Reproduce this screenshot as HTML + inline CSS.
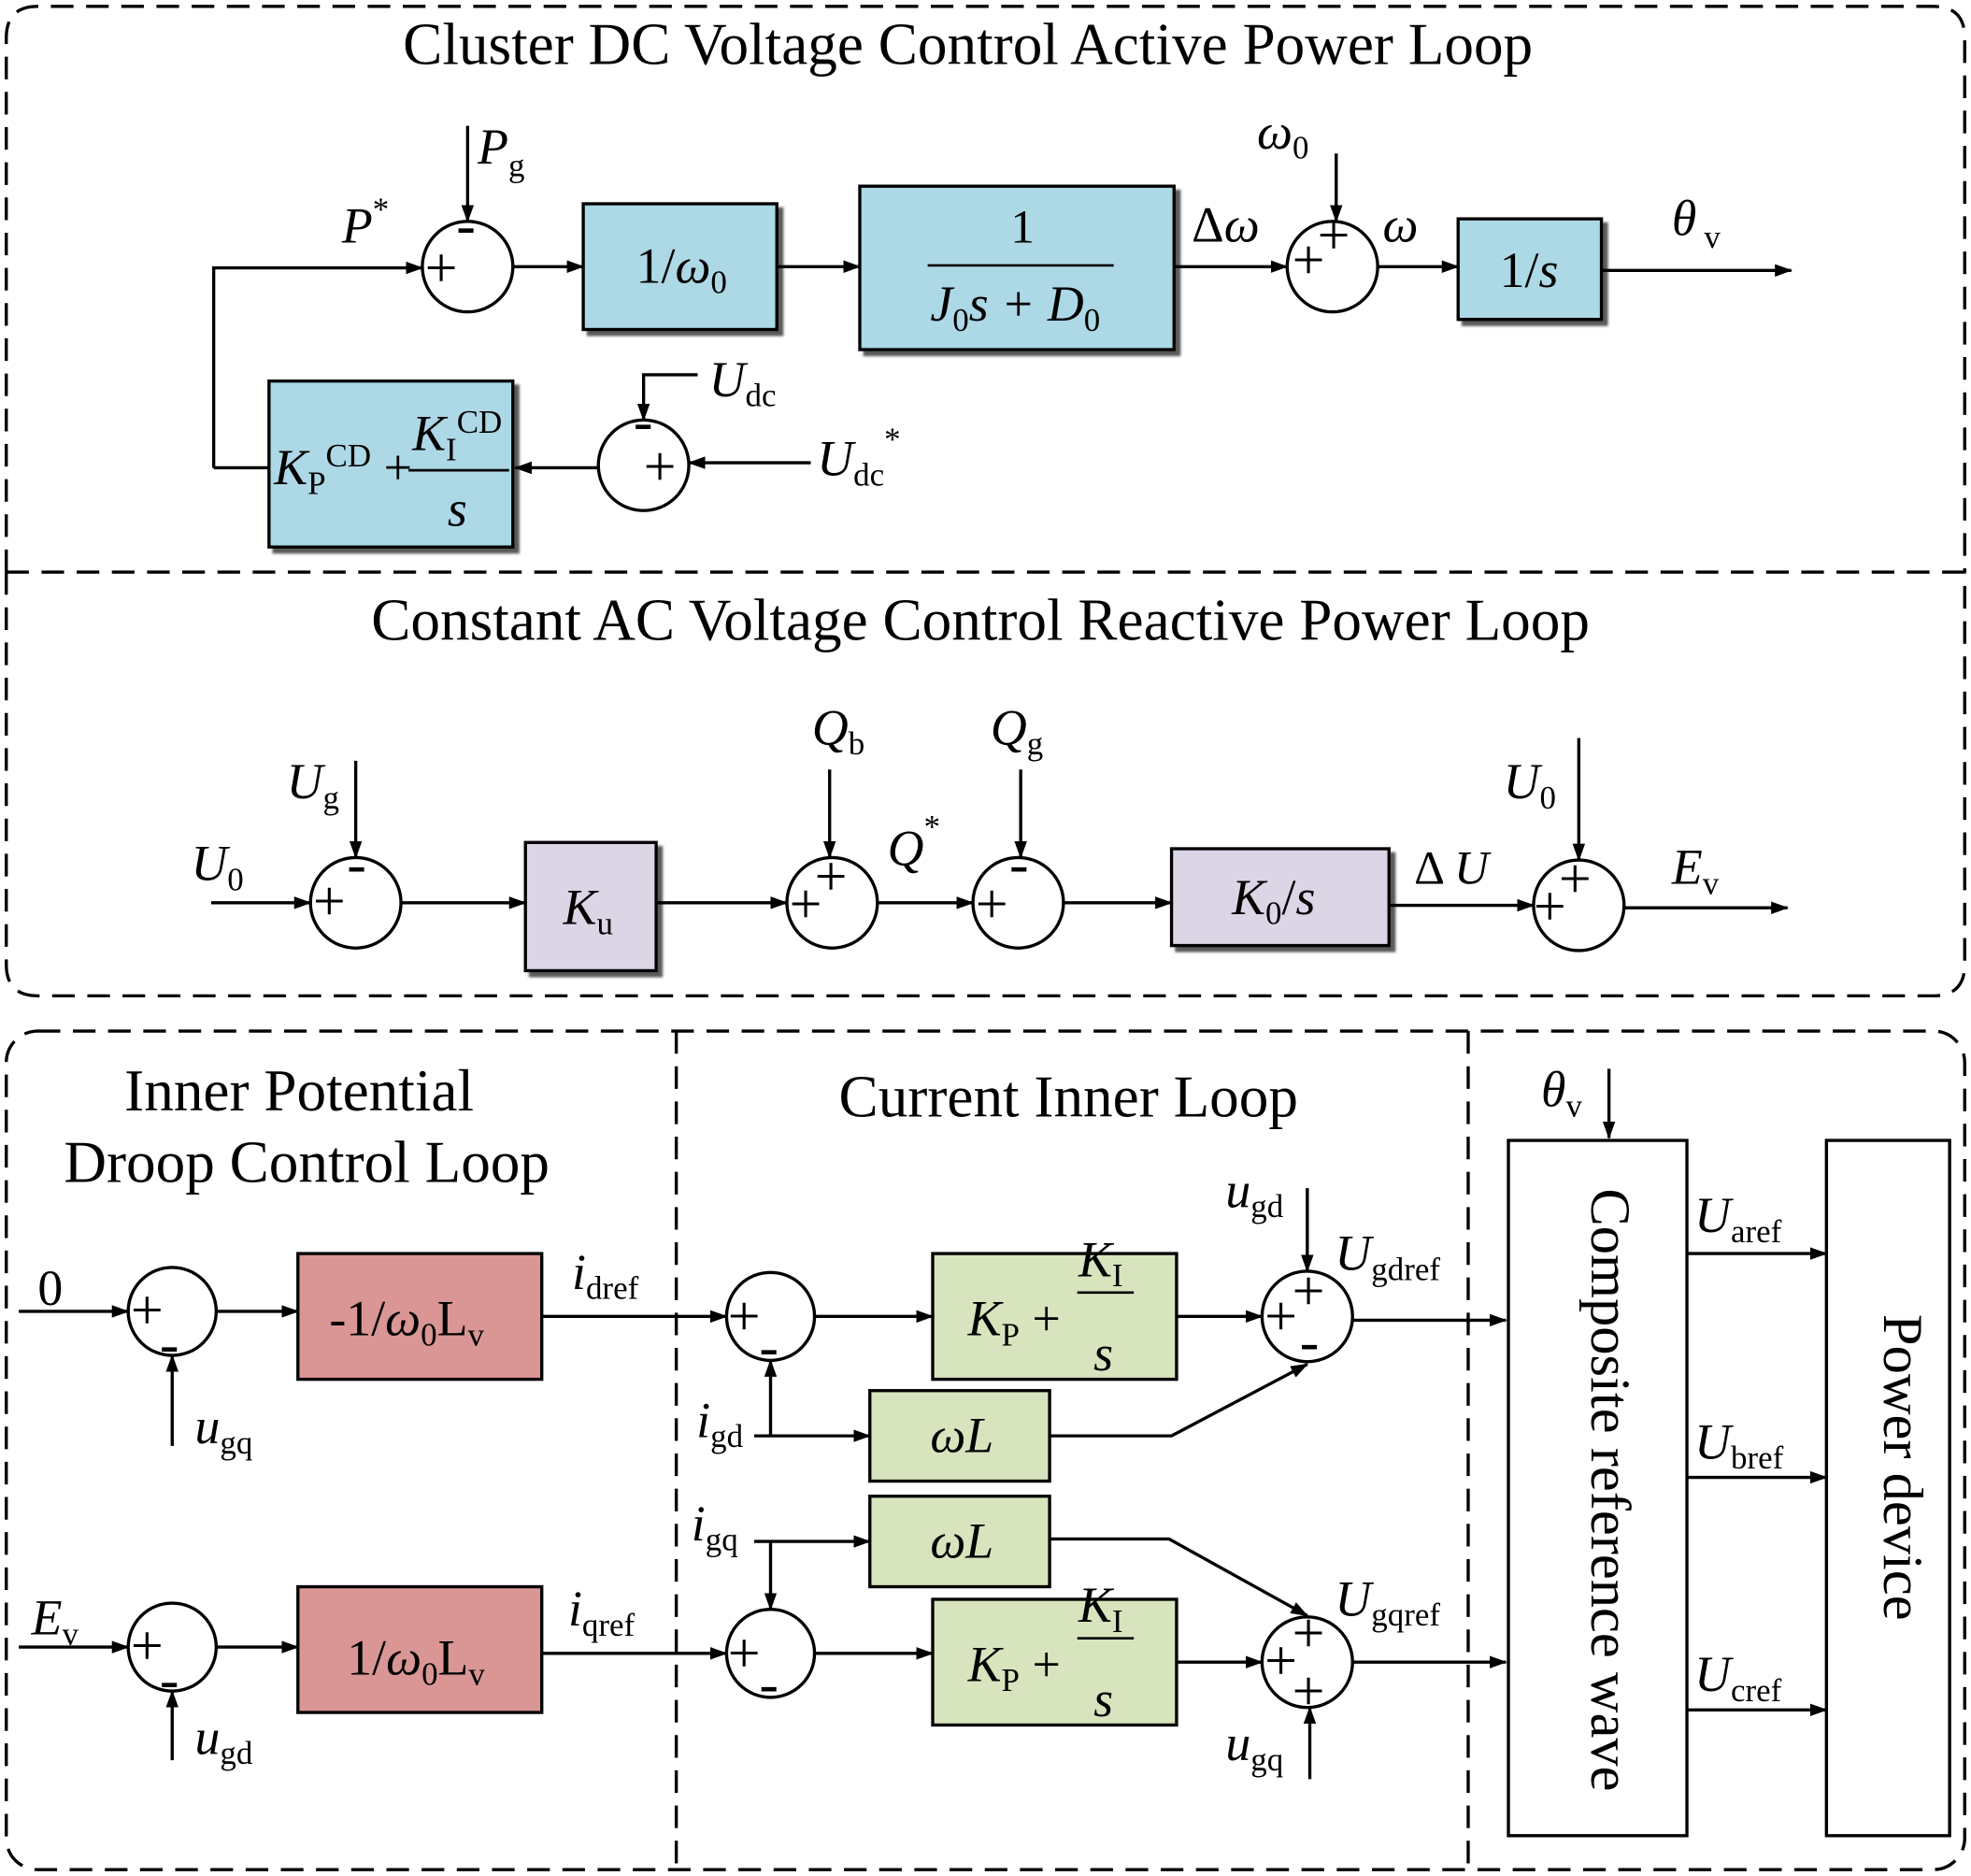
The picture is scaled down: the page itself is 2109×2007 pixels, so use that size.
<!DOCTYPE html>
<html><head><meta charset="utf-8"><style>
html,body{margin:0;padding:0;background:#fff}
svg{display:block}
text{font-family:"Liberation Serif",serif;fill:#000}
.t{font-size:47px}
.l{font-size:40px;font-style:italic}
.s{font-size:26px;font-style:normal}
.pm{font-size:46px}
</style></head><body>
<svg width="2109" height="2007" viewBox="0 0 1568 1492" xmlns="http://www.w3.org/2000/svg">
<defs>
<marker id="a" markerWidth="14" markerHeight="10" refX="13" refY="5" orient="auto" markerUnits="userSpaceOnUse"><path d="M0,0 L14,5 L0,10 z" fill="#000"/></marker>
<filter id="sh"><feDropShadow dx="4" dy="4" stdDeviation="1" flood-color="#333" flood-opacity="0.8"/></filter>
</defs>
<g fill="none" stroke="#000" stroke-width="2.5" stroke-dasharray="18,10">
<path d="M5,455 V30 Q5,5 30,5 H1538 Q1563,5 1563,30 V455"/>
<path d="M5,455 H1563"/>
<path d="M5,455 V767 Q5,792 30,792 H1538 Q1563,792 1563,767 V455"/>
<rect x="5" y="820" width="1558" height="667" rx="25"/>
<path d="M538,820 V1487 M1168,820 V1487"/>
</g>
<text class="t" x="770" y="51" text-anchor="middle">Cluster DC Voltage Control Active Power Loop</text>
<text class="t" x="780" y="509" text-anchor="middle">Constant AC Voltage Control Reactive Power Loop</text>
<text class="t" x="238" y="883" text-anchor="middle">Inner Potential</text>
<text class="t" x="244" y="940" text-anchor="middle">Droop Control Loop</text>
<text class="t" x="850" y="888" text-anchor="middle">Current Inner Loop</text>

<g stroke="#000" stroke-width="2.5">
<rect x="464" y="162" width="154" height="100" fill="#add8e6" filter="url(#sh)"/>
<rect x="684" y="148" width="250" height="130" fill="#add8e6" filter="url(#sh)"/>
<rect x="1160" y="174" width="114" height="80" fill="#add8e6" filter="url(#sh)"/>
<rect x="214" y="303" width="194" height="132" fill="#add8e6" filter="url(#sh)"/>
<rect x="418" y="670" width="104" height="102" fill="#dcd5e6" filter="url(#sh)"/>
<rect x="932" y="675" width="173" height="77" fill="#dcd5e6" filter="url(#sh)"/>
<rect x="237" y="997" width="194" height="100" fill="#d99694"/>
<rect x="237" y="1262" width="194" height="100" fill="#d99694"/>
<rect x="742" y="997" width="194" height="100" fill="#d7e4bd"/>
<rect x="742" y="1272" width="194" height="100" fill="#d7e4bd"/>
<rect x="692" y="1106" width="143" height="72" fill="#d7e4bd"/>
<rect x="692" y="1190" width="143" height="72" fill="#d7e4bd"/>
<rect x="1200" y="907" width="142" height="553" fill="#fff"/>
<rect x="1453" y="907" width="98" height="553" fill="#fff"/>
</g>
<g fill="#fff" stroke="#000" stroke-width="2.5">
<circle cx="372" cy="212" r="36"/><circle cx="1060" cy="212" r="36"/><circle cx="512" cy="370" r="36"/>
<circle cx="283" cy="718" r="36"/><circle cx="662" cy="718" r="36"/><circle cx="810" cy="718" r="36"/><circle cx="1256" cy="720" r="36"/>
<circle cx="137" cy="1043" r="35"/><circle cx="137" cy="1310" r="35"/>
<circle cx="613" cy="1047" r="35"/><circle cx="613" cy="1315" r="35"/>
<circle cx="1040" cy="1047" r="36"/><circle cx="1040" cy="1322" r="36"/>
</g>
<g fill="none" stroke="#000" stroke-width="2.5" marker-end="url(#a)">
<path d="M372,100 V176"/><path d="M170,372 H214 M170,372 V213 H336"/>
<path d="M408,212 H464"/><path d="M618,212 H684"/><path d="M934,212 H1024"/>
<path d="M1063,122 V176"/><path d="M1096,212 H1160"/><path d="M1274,215 H1425"/>
<path d="M555,298 H512 V334"/><path d="M645,368 H548"/><path d="M476,372 H410"/>
<path d="M283,605 V682"/><path d="M168,718 H247"/><path d="M319,718 H418"/>
<path d="M522,718 H626"/><path d="M660,612 V682"/><path d="M698,718 H774"/>
<path d="M812,612 V682"/><path d="M846,718 H932"/><path d="M1105,720 H1220"/>
<path d="M1256,587 V684"/><path d="M1292,722 H1422"/>
<path d="M15,1043 H102"/><path d="M137,1150 V1078"/><path d="M172,1043 H237"/>
<path d="M431,1047 H578"/><path d="M648,1047 H742"/><path d="M936,1047 H1004"/>
<path d="M1040,945 V1011"/><path d="M1076,1050 H1198"/>
<path d="M600,1142 H692"/><path d="M613,1142 V1082"/><path d="M835,1142 H932 L1040,1085"/>
<path d="M600,1226 H692"/><path d="M613,1226 V1280"/><path d="M835,1224 H930 L1040,1285"/>
<path d="M648,1315 H742"/><path d="M936,1322 H1004"/><path d="M1042,1415 V1358"/><path d="M1076,1322 H1198"/>
<path d="M15,1310 H102"/><path d="M137,1400 V1345"/><path d="M172,1310 H237"/><path d="M431,1315 H578"/>
<path d="M1280,850 V905"/>
<path d="M1342,997 H1453"/><path d="M1342,1175 H1453"/><path d="M1342,1360 H1453"/>
</g>
<line x1="738" y1="211" x2="886" y2="211" stroke="#000" stroke-width="2"/>
<line x1="325" y1="374" x2="405" y2="374" stroke="#000" stroke-width="2"/>
<line x1="857" y1="1028" x2="902" y2="1028" stroke="#000" stroke-width="2"/>
<line x1="857" y1="1303" x2="902" y2="1303" stroke="#000" stroke-width="2"/>
<g class="pm">
<text x="338" y="228">+</text><text x="363" y="194">-</text>
<text x="1028" y="222">+</text><text x="1048" y="202">+</text>
<text x="512" y="386">+</text><text x="504" y="350">-</text>
<text x="249" y="732">+</text><text x="276" y="702">-</text>
<text x="628" y="734">+</text><text x="648" y="712">+</text>
<text x="776" y="734">+</text><text x="803" y="702">-</text>
<text x="1220" y="736">+</text><text x="1240" y="714">+</text>
<text x="104" y="1057">+</text><text x="127" y="1084">-</text>
<text x="104" y="1324">+</text><text x="127" y="1351">-</text>
<text x="579" y="1062">+</text><text x="604" y="1086">-</text>
<text x="579" y="1330">+</text><text x="604" y="1354">-</text>
<text x="1006" y="1062">+</text><text x="1028" y="1042">+</text><text x="1034" y="1082">-</text>
<text x="1006" y="1336">+</text><text x="1028" y="1314">+</text><text x="1028" y="1360">+</text>
</g>
<text class="l" x="380" y="130">P<tspan class="s" dy="10">g</tspan></text>
<text class="l" x="272" y="193">P<tspan class="s" dy="-18">*</tspan></text>
<text x="506" y="225" font-size="40">1/<tspan font-style="italic">ω</tspan><tspan class="s" dy="8">0</tspan></text>
<text x="804" y="193" font-size="38">1</text>
<text class="l" x="740" y="255" font-size="36">J<tspan class="s" dy="8">0</tspan><tspan dy="-8">s + D</tspan><tspan class="s" dy="8">0</tspan></text>
<text x="948" y="192" font-size="40">Δ<tspan font-style="italic">ω</tspan></text>
<text class="l" x="1000" y="118">ω<tspan class="s" dy="8">0</tspan></text>
<text class="l" x="1100" y="192">ω</text>
<text x="1193" y="228" font-size="40">1/<tspan font-style="italic">s</tspan></text>
<text class="l" x="1330" y="187">θ<tspan class="s" dx="6" dy="10">v</tspan></text>
<text class="l" x="564" y="315">U<tspan class="s" dy="8">dc</tspan></text>
<text class="l" x="650" y="378">U<tspan class="s" dy="8">dc</tspan><tspan class="s" dy="-28">*</tspan></text>
<text class="l" x="218" y="385" font-size="36">K<tspan class="s" dy="8">P</tspan><tspan class="s" dy="-22">CD</tspan><tspan dy="14" font-style="normal"> +</tspan></text>
<text class="l" x="328" y="358" font-size="36">K<tspan class="s" dy="8">I</tspan><tspan class="s" dy="-22">CD</tspan></text>
<text class="l" x="356" y="418" font-size="36">s</text>
<text class="l" x="228" y="635">U<tspan class="s" dy="8">g</tspan></text>
<text class="l" x="152" y="700">U<tspan class="s" dy="8">0</tspan></text>
<text class="l" x="448" y="735">K<tspan class="s" dy="8">u</tspan></text>
<text class="l" x="646" y="592">Q<tspan class="s" dy="8">b</tspan></text>
<text class="l" x="788" y="592">Q<tspan class="s" dy="8">g</tspan></text>
<text class="l" x="706" y="688">Q<tspan class="s" dy="-22">*</tspan></text>
<text class="l" x="980" y="727">K<tspan class="s" dy="8">0</tspan><tspan dy="-8" font-style="normal">/</tspan>s</text>
<text x="1125" y="703" font-size="38">Δ <tspan font-style="italic">U</tspan></text>
<text class="l" x="1196" y="635">U<tspan class="s" dy="8">0</tspan></text>
<text class="l" x="1330" y="703">E<tspan class="s" dy="8">v</tspan></text>
<text x="30" y="1038" font-size="40">0</text>
<text class="l" x="155" y="1148">u<tspan class="s" dy="8">gq</tspan></text>
<text x="262" y="1062" font-size="40">-1/<tspan font-style="italic">ω</tspan><tspan class="s" dy="8">0</tspan><tspan dy="-8">L</tspan><tspan class="s" dy="8">v</tspan></text>
<text class="l" x="455" y="1025">i<tspan class="s" dy="8">dref</tspan></text>
<text class="l" x="25" y="1300">E<tspan class="s" dy="8">v</tspan></text>
<text class="l" x="155" y="1395">u<tspan class="s" dy="8">gd</tspan></text>
<text x="276" y="1332" font-size="40">1/<tspan font-style="italic">ω</tspan><tspan class="s" dy="8">0</tspan><tspan dy="-8">L</tspan><tspan class="s" dy="8">v</tspan></text>
<text class="l" x="452" y="1293">i<tspan class="s" dy="8">qref</tspan></text>
<text class="l" x="770" y="1062" font-size="36">K<tspan class="s" dy="8">P</tspan><tspan dy="-8" font-style="normal"> +</tspan></text>
<text class="l" x="858" y="1015" font-size="36">K<tspan class="s" dy="8">I</tspan></text>
<text class="l" x="870" y="1090" font-size="36">s</text>
<text class="l" x="770" y="1337" font-size="36">K<tspan class="s" dy="8">P</tspan><tspan dy="-8" font-style="normal"> +</tspan></text>
<text class="l" x="858" y="1290" font-size="36">K<tspan class="s" dy="8">I</tspan></text>
<text class="l" x="870" y="1365" font-size="36">s</text>
<text class="l" x="740" y="1155" font-size="36">ωL</text>
<text class="l" x="740" y="1239" font-size="36">ωL</text>
<text class="l" x="554" y="1143">i<tspan class="s" dy="8">gd</tspan></text>
<text class="l" x="550" y="1225">i<tspan class="s" dy="8">gq</tspan></text>
<text class="l" x="975" y="960">u<tspan class="s" dy="8">gd</tspan></text>
<text class="l" x="975" y="1400">u<tspan class="s" dy="8">gq</tspan></text>
<text class="l" x="1062" y="1010">U<tspan class="s" dy="8">gdref</tspan></text>
<text class="l" x="1062" y="1285">U<tspan class="s" dy="8">gqref</tspan></text>
<text class="l" x="1226" y="880">θ<tspan class="s" dy="8">v</tspan></text>
<text class="l" x="1348" y="980">U<tspan class="s" dy="8">aref</tspan></text>
<text class="l" x="1348" y="1160">U<tspan class="s" dy="8">bref</tspan></text>
<text class="l" x="1348" y="1345">U<tspan class="s" dy="8">cref</tspan></text>
<text x="1280" y="1185" font-size="45" text-anchor="middle" transform="rotate(90 1280 1185)" dy="14">Composite reference wave</text>
<text x="1514" y="1167" font-size="45" text-anchor="middle" transform="rotate(90 1514 1167)" dy="15">Power device</text>
</svg>
</body></html>
